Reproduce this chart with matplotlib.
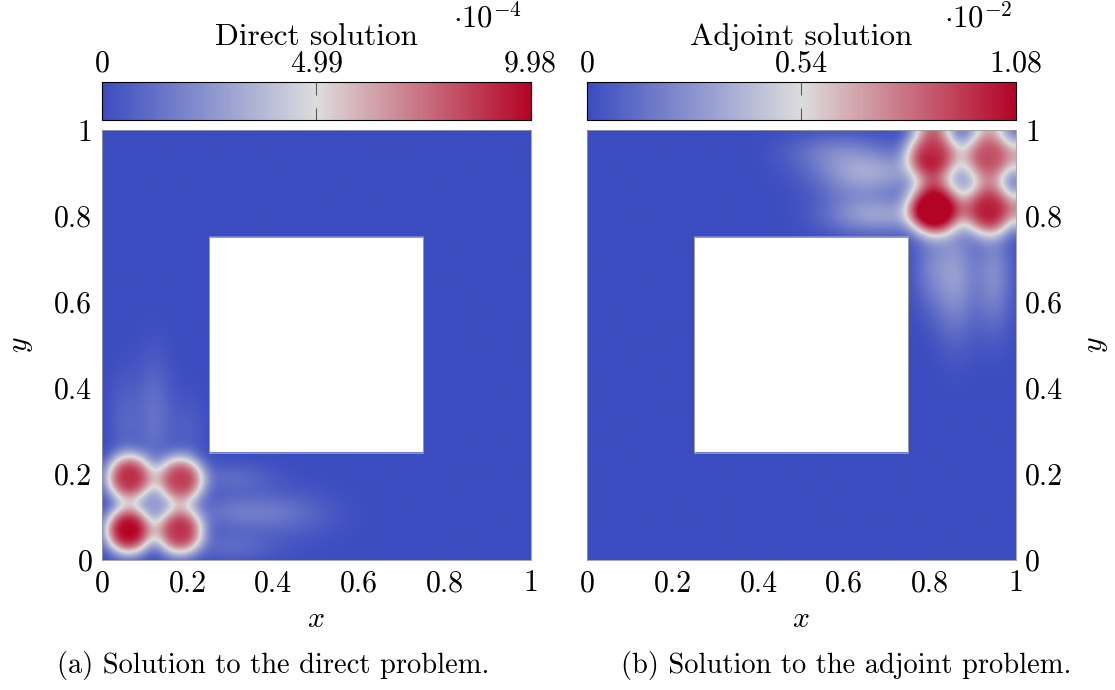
import numpy as np
import matplotlib
matplotlib.use("Agg")
import matplotlib.pyplot as plt
from matplotlib.colors import LinearSegmentedColormap
from matplotlib.patches import Rectangle

plt.rcParams["font.family"] = "serif"
plt.rcParams["font.serif"] = ["cmr10"]
plt.rcParams["mathtext.fontset"] = "cm"
plt.rcParams["axes.formatter.use_mathtext"] = True

# domain: unit square with a square hole
hole = (0.25, 0.75)

# direct solution: four lobes near the source at (0.12, 0.13)
direct_lobe_x = [0.061, 0.180, 0.063, 0.182]
direct_lobe_y = [0.068, 0.066, 0.190, 0.185]
direct_lobe_amp = [9.98e-4, 8.6e-4, 8.7e-4, 8.2e-4]
direct_lobe_sigma = 0.045
# weak plumes along the bottom and left strips, plus the bump in the middle
direct_plume_x = [0.33, 0.30, 0.30, 0.12, 0.05, 0.20, 0.45, 0.121]
direct_plume_y = [0.11, 0.19, 0.03, 0.33, 0.32, 0.30, 0.10, 0.128]
direct_plume_sx = [0.10, 0.07, 0.07, 0.03, 0.025, 0.03, 0.08, 0.016]
direct_plume_sy = [0.03, 0.025, 0.025, 0.10, 0.08, 0.06, 0.05, 0.016]
direct_plume_amp = [1.5e-4, 1.0e-4, 1.0e-4, 1.3e-4, 0.8e-4, 0.6e-4, 0.5e-4, 1.2e-4]
direct_max = 9.98e-4
direct_ticks = ["0", "4.99", "9.98"]

# adjoint solution: lobes near the target at (0.87, 0.88)
adjoint_lobe_x = [0.811, 0.938, 0.807, 0.938]
adjoint_lobe_y = [0.818, 0.816, 0.942, 0.938]
adjoint_lobe_amp = [1.08e-2, 0.95e-2, 0.92e-2, 0.88e-2]
adjoint_lobe_sigma = 0.05
adjoint_wall_reflection = 1.0
adjoint_plume_x = [0.68, 0.70, 0.58, 0.86, 0.95, 0.80, 0.62, 0.872]
adjoint_plume_y = [0.90, 0.80, 0.95, 0.66, 0.66, 0.68, 0.85, 0.878]
adjoint_plume_sx = [0.10, 0.09, 0.08, 0.035, 0.03, 0.03, 0.06, 0.02]
adjoint_plume_sy = [0.035, 0.03, 0.03, 0.10, 0.09, 0.07, 0.06, 0.02]
adjoint_plume_amp = [0.28e-2, 0.28e-2, 0.15e-2, 0.28e-2, 0.23e-2, 0.15e-2, 0.1e-2, 0.08e-2]
adjoint_max = 1.08e-2
adjoint_ticks = ["0", "0.54", "1.08"]

n = 500
xs = np.linspace(0, 1, n)
X, Y = np.meshgrid(xs, xs)


def lobe(x0, y0, a, sig):
    d = np.sqrt((X - x0) ** 2 + (Y - y0) ** 2) / sig
    return a * np.exp(-0.5 * d ** 3)


def build_field(lx, ly, la, sig, px, py, psx, psy, pa, vmax, reflect=0.0):
    Z = np.zeros_like(X)
    for x0, y0, a in zip(lx, ly, la):
        Z += lobe(x0, y0, a, sig)
        if reflect:
            # reflection from the outer walls x = 1 and y = 1
            Z += reflect * (lobe(2 - x0, y0, a, sig) + lobe(x0, 2 - y0, a, sig))
    for x0, y0, sx, sy, a in zip(px, py, psx, psy, pa):
        Z += a * np.exp(-0.5 * (((X - x0) / sx) ** 2 + ((Y - y0) / sy) ** 2))
    Z = np.clip(Z, 0, vmax)
    inside = (X > hole[0]) & (X < hole[1]) & (Y > hole[0]) & (Y < hole[1])
    return np.where(inside, np.nan, Z)


cmap = LinearSegmentedColormap.from_list(
    "cool_to_warm", ["#3b4cc0", "#dddddd", "#b40426"])
cmap.set_bad("white")

fig = plt.figure(figsize=(11.15, 6.9), dpi=100)

panels = [
    (0.0915, "Direct solution", r"$\cdot 10^{-4}$", 0.437, direct_max, direct_ticks,
     build_field(direct_lobe_x, direct_lobe_y, direct_lobe_amp, direct_lobe_sigma,
                 direct_plume_x, direct_plume_y, direct_plume_sx, direct_plume_sy,
                 direct_plume_amp, direct_max), "left",
     "(a) Solution to the direct problem.", 0.245),
    (0.5265, "Adjoint solution", r"$\cdot 10^{-2}$", 0.877, adjoint_max, adjoint_ticks,
     build_field(adjoint_lobe_x, adjoint_lobe_y, adjoint_lobe_amp, adjoint_lobe_sigma,
                 adjoint_plume_x, adjoint_plume_y, adjoint_plume_sx, adjoint_plume_sy,
                 adjoint_plume_amp, adjoint_max, reflect=adjoint_wall_reflection),
     "right", "(b) Solution to the adjoint problem.", 0.759),
]

fs = 21.5
for left, title, scale, scale_x, vmax, ticks, Z, yside, caption, cap_x in panels:
    ax = fig.add_axes([left, 0.1884, 0.3843, 0.6232])
    im = ax.imshow(Z, extent=[0, 1, 0, 1], origin="lower", cmap=cmap,
                   vmin=0, vmax=vmax, aspect="auto", interpolation="bilinear")
    ax.add_patch(Rectangle((hole[0], hole[0]), hole[1] - hole[0], hole[1] - hole[0],
                           fill=False, edgecolor="0.6", lw=0.7))
    ax.set_xlim(0, 1)
    ax.set_ylim(0, 1)
    ax.set_xticks([0, 0.2, 0.4, 0.6, 0.8, 1])
    ax.set_xticklabels(["0", "0.2", "0.4", "0.6", "0.8", "1"])
    ax.set_yticks([0, 0.2, 0.4, 0.6, 0.8, 1])
    ax.set_yticklabels(["0", "0.2", "0.4", "0.6", "0.8", "1"])
    ax.tick_params(length=0, labelsize=fs, pad=7)
    ax.yaxis.set_ticks_position(yside)
    ax.yaxis.set_label_position(yside)
    ax.set_xlabel(r"$x$", fontsize=fs, labelpad=6)
    ax.set_ylabel(r"$y$", fontsize=fs, labelpad=14)
    for sp in ax.spines.values():
        sp.set_color("0.6")
        sp.set_linewidth(0.6)

    cax = fig.add_axes([left, 0.826, 0.3843, 0.055])
    cb = fig.colorbar(im, cax=cax, orientation="horizontal",
                      ticks=[0, vmax / 2, vmax])
    cb.outline.set_linewidth(0.8)
    cax.set_xticklabels(ticks)
    cax.tick_params(axis="x", direction="in", top=True, bottom=True,
                    labeltop=True, labelbottom=False, length=9,
                    width=0.8, color="0.35", labelsize=fs, pad=3)
    cax.set_title(title, fontsize=22.5, pad=3)
    fig.text(scale_x, 0.975, scale, fontsize=22, ha="center", va="center")

    fig.text(cap_x, 0.036, caption, fontsize=20.5, ha="center", va="center")

fig.savefig("out.png", dpi=100)
